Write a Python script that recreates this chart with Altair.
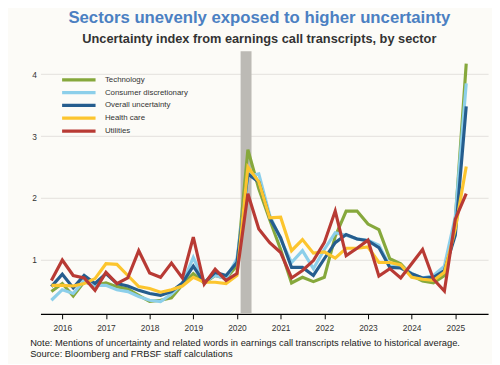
import altair as alt
import pandas as pd

quarters = [
    "2015Q4",
    "2016Q1", "2016Q2", "2016Q3", "2016Q4",
    "2017Q1", "2017Q2", "2017Q3", "2017Q4",
    "2018Q1", "2018Q2", "2018Q3", "2018Q4",
    "2019Q1", "2019Q2", "2019Q3", "2019Q4",
    "2020Q1", "2020Q2", "2020Q3", "2020Q4",
    "2021Q1", "2021Q2", "2021Q3", "2021Q4",
    "2022Q1", "2022Q2", "2022Q3", "2022Q4",
    "2023Q1", "2023Q2", "2023Q3", "2023Q4",
    "2024Q1", "2024Q2", "2024Q3", "2024Q4",
    "2025Q1", "2025Q2",
]

technology = [0.49, 0.62, 0.42, 0.65, 0.59, 0.63, 0.57, 0.53, 0.43, 0.33, 0.35, 0.39, 0.60,
              0.78, 0.63, 0.75, 0.70, 0.91, 2.78, 2.15, 1.65, 1.17, 0.63, 0.72, 0.65, 0.72,
              1.38, 1.79, 1.79, 1.58, 1.49, 1.02, 0.94, 0.75, 0.66, 0.63, 0.75, 1.65, 4.17]
consumer = [0.35, 0.52, 0.46, 0.67, 0.59, 0.59, 0.52, 0.49, 0.41, 0.35, 0.33, 0.45, 0.62,
            1.04, 0.65, 0.75, 0.70, 1.02, 2.35, 2.39, 1.72, 1.33, 0.96, 1.15, 0.86, 1.17,
            1.44, 1.40, 1.34, 1.32, 1.24, 0.90, 0.90, 0.78, 0.71, 0.75, 0.90, 1.70, 3.85]
overall = [0.57, 0.77, 0.55, 0.75, 0.62, 0.78, 0.62, 0.58, 0.51, 0.46, 0.43, 0.49, 0.63,
           0.90, 0.63, 0.80, 0.75, 0.96, 2.39, 2.26, 1.68, 1.36, 0.88, 0.88, 0.75, 1.02,
           1.28, 1.41, 1.34, 1.31, 1.20, 0.88, 0.87, 0.78, 0.71, 0.72, 0.83, 1.40, 3.48]
health = [0.59, 0.59, 0.58, 0.62, 0.70, 0.94, 0.93, 0.75, 0.57, 0.54, 0.48, 0.52, 0.58,
          0.72, 0.64, 0.64, 0.62, 0.75, 2.50, 2.26, 1.68, 1.69, 1.15, 1.33, 1.11, 1.13,
          1.03, 1.19, 1.19, 1.21, 0.96, 0.96, 0.92, 0.72, 0.69, 0.67, 0.80, 1.50, 2.51]
utilities = [0.67, 1.00, 0.75, 0.71, 0.51, 0.80, 0.62, 0.71, 1.15, 0.79, 0.72, 0.95, 0.71,
             1.37, 0.61, 0.85, 0.67, 0.78, 2.07, 1.50, 1.28, 1.12, 0.71, 0.83, 0.99, 1.28,
             1.79, 1.07, 1.19, 1.32, 0.74, 0.86, 0.71, 0.94, 1.17, 0.69, 0.50, 1.66, 2.07]

series_names = ["Technology", "Consumer discretionary", "Overall uncertainty", "Health care", "Utilities"]
series_values = [technology, consumer, overall, health, utilities]
series_colors = ["#86a83c", "#8ccfea", "#255d8e", "#fcc52e", "#b83a34"]

recession_start = [2020.0833]
recession_end = [2020.3333]

tick_years = [2016, 2017, 2018, 2019, 2020, 2021, 2022, 2023, 2024, 2025]
y_ticks = [1, 2, 3, 4]

note_lines = [
    "Note: Mentions of uncertainty and related words in earnings call transcripts relative to historical average.",
    "Source: Bloomberg and FRBSF staff calculations",
]

rows = []
for name, vals in zip(series_names, series_values):
    for q, v in zip(quarters, vals):
        yr = int(q[:4]) + (int(q[-1]) - 1) / 4.0
        rows.append({"t": yr, "v": v, "series": name})
df = pd.DataFrame(rows)
rec = pd.DataFrame({"s": recession_start, "e": recession_end})

FONT = "Liberation Sans"

xscale = alt.Scale(domain=[2015.5, 2025.75], nice=False, zero=False)
xaxis = alt.Axis(values=tick_years, format="d", title=note_lines)

bar = alt.Chart(rec).mark_rect(color="#bcbab5").encode(
    x=alt.X("s:Q", scale=xscale, axis=xaxis),
    x2="e:Q",
)

lines = alt.Chart(df).mark_line(strokeWidth=3.2).encode(
    x=alt.X("t:Q", scale=xscale, axis=xaxis),
    y=alt.Y("v:Q", scale=alt.Scale(domain=[0.13, 4.37], nice=False, zero=False),
            axis=alt.Axis(values=y_ticks, title=None)),
    color=alt.Color("series:N",
                    scale=alt.Scale(domain=series_names, range=series_colors),
                    legend=alt.Legend(title=None, orient="none", legendX=20, legendY=23,
                                      symbolType="stroke", symbolSize=1156,
                                      symbolStrokeWidth=3.3, clipHeight=12.25,
                                      rowPadding=0, labelOffset=7.5, padding=0,
                                      labelFontSize=8, labelFont=FONT,
                                      labelColor="#333333")),
)

chart = alt.layer(bar, lines).properties(
    width=455,
    height=267,
    autosize=alt.AutoSizeParams(type="none"),
    padding={"left": 33, "top": 41, "right": 4, "bottom": 48},
    background="#fcfbf7",
    title=alt.TitleParams(
        text="Sectors unevenly exposed to higher uncertainty",
        subtitle="Uncertainty index from earnings call transcripts, by sector",
        font=FONT, fontSize=17, fontWeight="bold", color="#4b80c2",
        subtitleFont=FONT, subtitleFontSize=13, subtitleFontWeight="bold",
        subtitleColor="#333333", subtitlePadding=7,
        anchor="middle", dx=-5, offset=4,
    ),
).configure_view(stroke=None).configure_axisX(
    domainColor="#000000", domainWidth=1.5, tickColor="#000000", tickSize=5,
    labelFont=FONT, labelFontSize=8.5, labelColor="#333333", labelPadding=5,
    grid=False, titleFont=FONT, titleFontSize=9.5, titleFontWeight="normal",
    titleColor="#222222", titleAlign="left", titleAnchor="start",
    titleX=-11, titleY=32, titleBaseline="alphabetic", titleLineHeight=11,
).configure_axisY(
    domain=False, ticks=False, labelFont=FONT, labelFontSize=8.5,
    labelColor="#333333", labelPadding=4, gridColor="#e2e0dc", gridWidth=1,
)

chart.save("out.html", embed_options={"renderer": "svg", "actions": False})
